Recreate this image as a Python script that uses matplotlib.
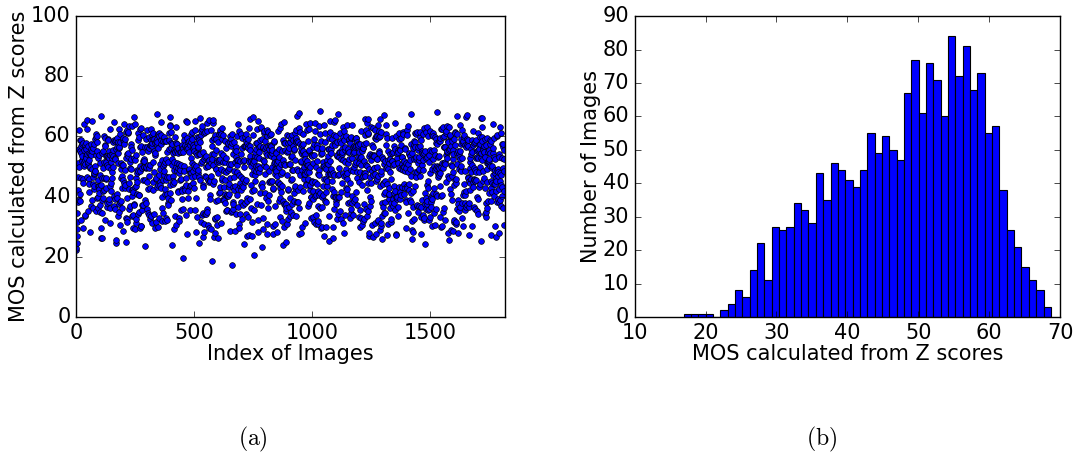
import numpy as np
import matplotlib
matplotlib.use('Agg')
import matplotlib.pyplot as plt

plt.style.use('classic')
plt.rcParams['figure.facecolor'] = 'white'
plt.rcParams['savefig.facecolor'] = 'white'
plt.rcParams['font.family'] = ['DejaVu Sans']
plt.rcParams['font.size'] = 15
plt.rcParams['mathtext.fontset'] = 'cm'

# histogram of MOS values, 50 bins
bin_lo, bin_hi = 16.9, 68.7
counts = [1, 1, 1, 1, 0, 2, 4, 8, 6, 14,
          22, 11, 27, 26, 27, 34, 32, 28, 43, 35,
          46, 44, 41, 39, 44, 55, 49, 54, 50, 47,
          67, 77, 61, 76, 71, 60, 84, 72, 81, 68,
          73, 55, 57, 38, 26, 21, 15, 11, 8, 3]
# image indices of the four lowest scores (panel a)
low_idx = [660, 575, 455, 755]

edges = np.linspace(bin_lo, bin_hi, len(counts) + 1)
mos = np.concatenate([edges[i] + (np.arange(c) + 0.5) / c * (edges[i + 1] - edges[i])
                      for i, c in enumerate(counts) if c > 0])
n = len(mos)

# spread the scores over the image indices
y = np.empty(n)
y[low_idx] = mos[:len(low_idx)]
slots = np.setdiff1d(np.arange(n), low_idx)
key = (slots.astype(np.int64) ** 3) % 1823
y[slots[np.argsort(key, kind='stable')]] = mos[len(low_idx):]
idx = np.arange(n)

fig = plt.figure(figsize=(10.77, 4.63), dpi=100)
ax1 = fig.add_axes([0.0706, 0.3153, 0.398, 0.650])
ax2 = fig.add_axes([0.5893, 0.3153, 0.395, 0.650])

ax1.scatter(idx, y, s=17, c='b', edgecolors='k', linewidths=0.5)
ax1.set_xlim(0, n)
ax1.set_ylim(0, 100)
ax1.set_xticks([0, 500, 1000, 1500])
ax1.set_yticks(range(0, 101, 20))
ax1.set_xlabel('Index of Images')
ax1.set_ylabel('MOS calculated from Z scores')

ax2.hist(mos, bins=edges, color='b', edgecolor='k', linewidth=0.8)
ax2.set_xlim(10, 70)
ax2.set_ylim(0, 90)
ax2.set_xticks(range(10, 71, 10))
ax2.set_yticks(range(0, 91, 10))
ax2.set_xlabel('MOS calculated from Z scores')
ax2.set_ylabel('Number of Images')

for ax in (ax1, ax2):
    ax.tick_params(labelsize=15, direction='in', length=4, pad=4)
    ax.xaxis.labelpad = 1
    ax.yaxis.labelpad = 1

fig.text(0.235, 0.05, r'$\mathrm{(a)}$', ha='center', va='center', fontsize=17)
fig.text(0.763, 0.05, r'$\mathrm{(b)}$', ha='center', va='center', fontsize=17)

fig.savefig('out.png', dpi=100)
